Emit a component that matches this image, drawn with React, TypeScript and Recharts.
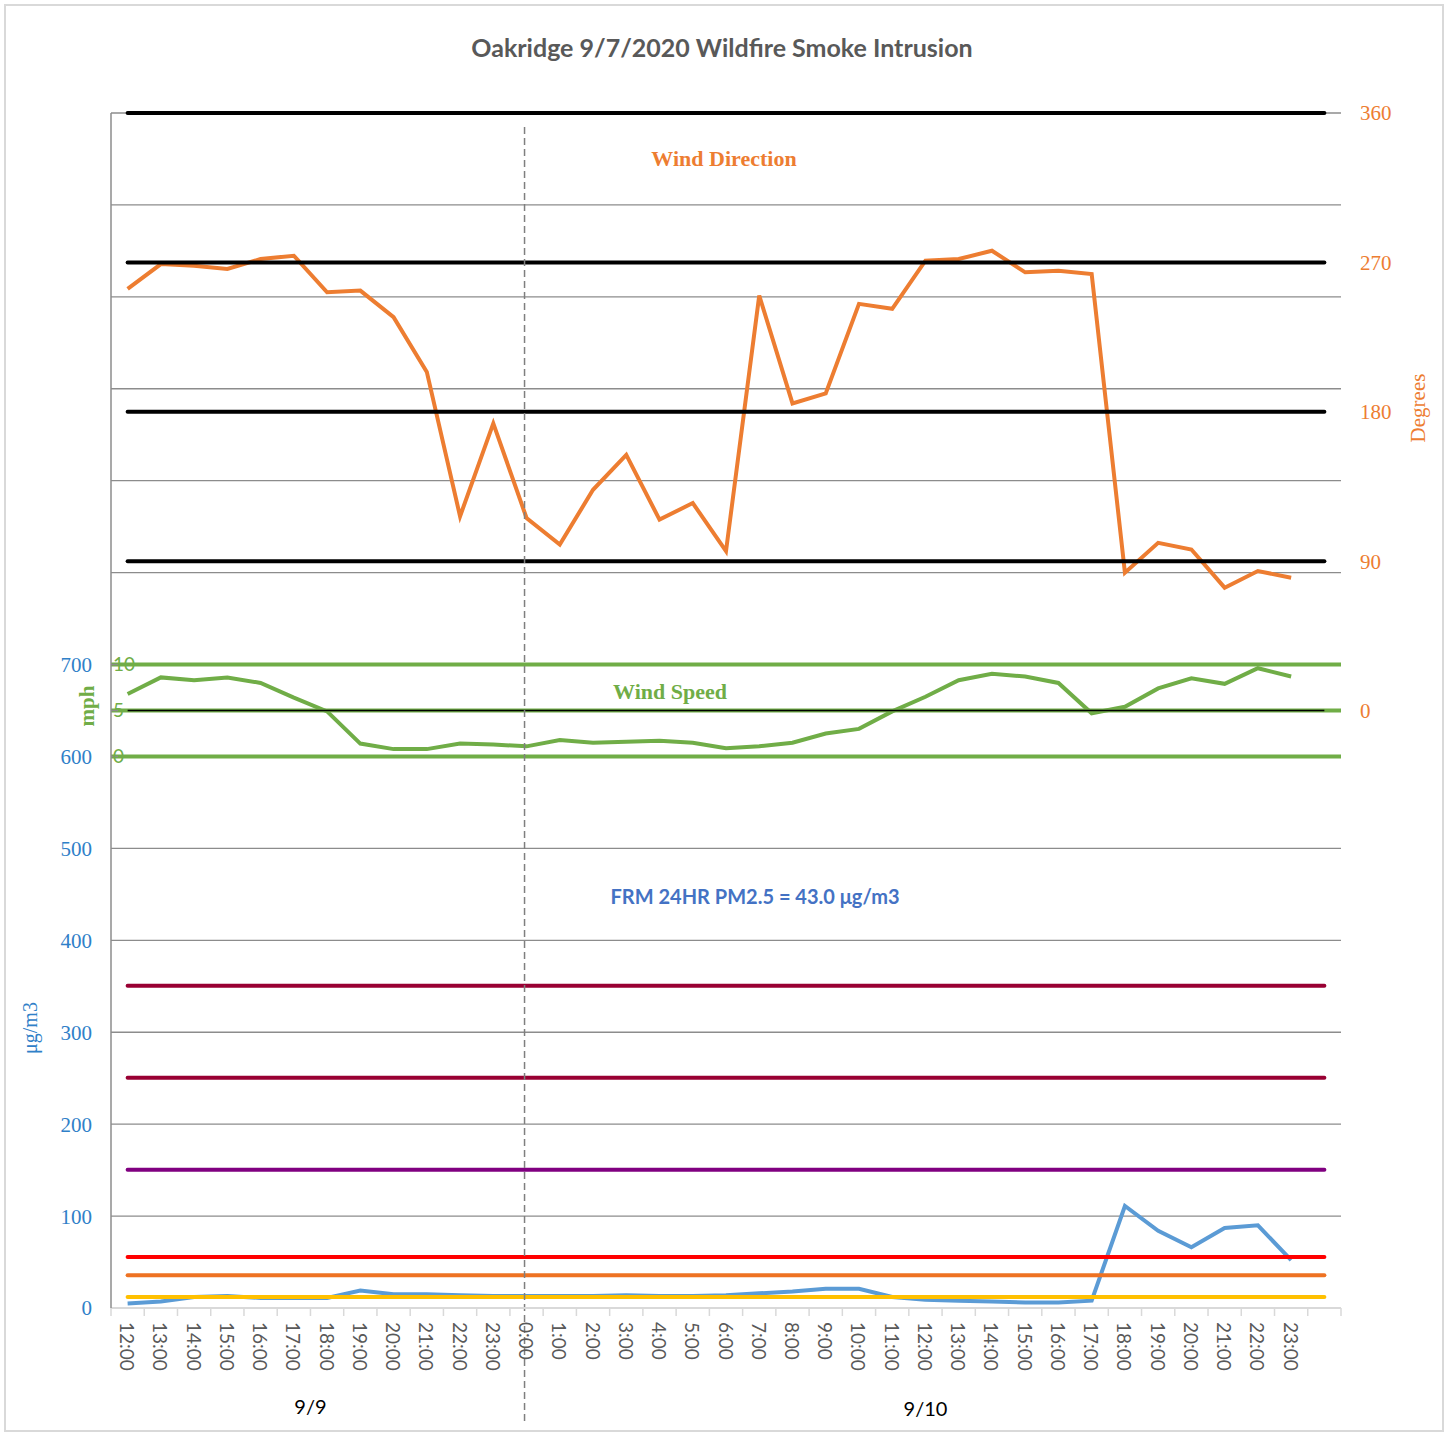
import React from 'react';
import {
  ComposedChart,
  Line,
  XAxis,
  YAxis,
  CartesianGrid,
  ReferenceLine,
} from 'recharts';

const hourLabels = [
  '12:00', '13:00', '14:00', '15:00', '16:00', '17:00', '18:00', '19:00', '20:00', '21:00', '22:00', '23:00',
  '0:00', '1:00', '2:00', '3:00', '4:00', '5:00', '6:00', '7:00', '8:00', '9:00', '10:00', '11:00',
  '12:00', '13:00', '14:00', '15:00', '16:00', '17:00', '18:00', '19:00', '20:00', '21:00', '22:00', '23:00',
  '',
];

// date groups shown under the hours, and how many hour slots each one spans
const dayLabels = ['9/9', '9/10'];
const daySpans = [12, 25];

const windDirection = [
  254, 269, 268, 266, 272, 274, 252, 253, 237, 204, 117, 173,
  116, 100, 133, 154, 115, 125, 96, 250, 185, 191, 245, 242,
  271, 272, 277, 264, 265, 263, 83, 101, 97, 74, 84, 80,
];

const windSpeed = [
  6.8, 8.6, 8.3, 8.6, 8.0, 6.4, 4.9, 1.4, 0.8, 0.8, 1.4, 1.3,
  1.1, 1.8, 1.5, 1.6, 1.7, 1.5, 0.9, 1.1, 1.5, 2.5, 3.0, 4.9,
  6.5, 8.3, 9.0, 8.7, 8.0, 4.7, 5.4, 7.4, 8.5, 7.9, 9.6, 8.7,
];

const pm25 = [
  5, 7, 12, 13, 11, 11, 11, 19, 15, 15, 14, 13,
  13, 13, 13, 14, 13, 13, 14, 16, 18, 21, 21, 12,
  9, 8, 7, 6, 6, 8, 111, 84, 66, 87, 90, 52,
];

const pmTicks = [0, 100, 200, 300, 400, 500, 600, 700, 800, 900, 1000, 1100, 1200, 1300];
const directionTicks = [0, 90, 180, 270, 360];
const speedTicks = [0, 5, 10];
const directionLevels = [90, 180, 270, 360];
const aqiLevels = [12, 35.5, 55.5, 150.5, 250.5, 350.5];

const aqiColors = ['#FFC000', '#EE7222', '#FF0000', '#800080', '#990033', '#990033'];

const dayOf = (i: number) => {
  let end = 0;
  for (let d = 0; d < daySpans.length; d++) {
    end += daySpans[d];
    if (i < end) return dayLabels[d];
  }
  return dayLabels[dayLabels.length - 1];
};

const data = hourLabels.map((hour, i) => ({
  slot: `${dayOf(i)} ${hour}`,
  hour,
  direction: windDirection[i] ?? null,
  speed: windSpeed[i] ?? null,
  pm: pm25[i] ?? null,
}));

const dayBreak = data[daySpans[0]].slot;

const SERIF = '"Liberation Serif", "Times New Roman", serif';
const SANS = 'Lato, "Open Sans", sans-serif';

function HourTick(props: any) {
  const { x, y, payload } = props;
  const half = payload?.offset || 16.6;
  const i = data.findIndex((r) => r.slot === payload.value);
  const row = data[i];
  const isLast = i === data.length - 1;

  let start = 0;
  let dayIdx = -1;
  daySpans.forEach((span, d) => {
    if (i === start) dayIdx = d;
    start += span;
  });

  return (
    <g>
      <line x1={x - half} x2={x - half} y1={y} y2={y + 8} stroke="#d9d9d9" strokeWidth={1.5} />
      {isLast && <line x1={x + half} x2={x + half} y1={y} y2={y + 8} stroke="#d9d9d9" strokeWidth={1.5} />}
      {row && row.hour && (
        <text
          x={x}
          y={y + 14}
          transform={`rotate(90 ${x} ${y + 14})`}
          textAnchor="start"
          dominantBaseline="central"
          fill="#595959"
          fontSize={19}
          fontFamily={SANS}
        >
          {row.hour}
        </text>
      )}
      {dayIdx >= 0 && (
        <text
          x={x + (daySpans[dayIdx] - 1) * half}
          y={y + 106 + dayIdx * 2}
          textAnchor="middle"
          fill="#000"
          fontSize={20}
          fontFamily={SANS}
        >
          {dayLabels[dayIdx]}
        </text>
      )}
    </g>
  );
}

function DayBreakLine(props: any) {
  const { x1, x2, y1, y2 } = props;
  const top = Math.min(y1, y2);
  const bottom = Math.max(y1, y2);
  return (
    <line
      x1={x1 - 2}
      x2={x2 - 2}
      y1={top + 14}
      y2={bottom + 117}
      stroke="#7f7f7f"
      strokeWidth={1.5}
      strokeDasharray="7 4"
    />
  );
}

export default function App() {
  return (
    <div style={{ position: 'absolute', left: 0, top: 0, width: 1447, height: 1433, background: '#fff' }}>
      <div
        style={{
          position: 'absolute',
          left: 4,
          top: 4,
          width: 1436,
          height: 1424,
          border: '2px solid #d9d9d9',
        }}
      />
      <div style={{ position: 'absolute', left: 0, top: 0 }}>
        <ComposedChart
          width={1447}
          height={1433}
          data={data}
          margin={{ top: 113, right: 46, bottom: 15, left: 51 }}
        >
          <CartesianGrid yAxisId="pm" vertical={false} stroke="#8c8c8c" strokeWidth={1.3} />
          <XAxis
            dataKey="slot"
            scale="band"
            interval={0}
            height={110}
            tickSize={0}
            tickMargin={0}
            tickLine={false}
            axisLine={{ stroke: '#d9d9d9', strokeWidth: 2 }}
            tick={<HourTick />}
          />
          <YAxis
            yAxisId="pm"
            orientation="left"
            width={60}
            domain={[0, 1300]}
            ticks={pmTicks}
            interval={0}
            tickFormatter={(v: number) => (v <= 700 ? String(v) : '')}
            tickLine={false}
            tickSize={0}
            tickMargin={19}
            axisLine={{ stroke: '#8c8c8c', strokeWidth: 1.5 }}
            tick={{ fill: '#2F80C8', fontSize: 21, fontFamily: SERIF }}
          />
          <YAxis
            yAxisId="ws"
            orientation="left"
            mirror
            width={40}
            domain={[-60, 70]}
            ticks={speedTicks}
            interval={0}
            axisLine={false}
            tickLine={{ stroke: '#8c8c8c', strokeWidth: 1.5 }}
            tickSize={7}
            tickMargin={-5}
            tick={{ fill: '#70AD47', fontSize: 19, fontFamily: SANS }}
          />
          <YAxis
            yAxisId="deg"
            orientation="right"
            width={60}
            domain={[-360, 360]}
            ticks={directionTicks}
            interval={0}
            axisLine={false}
            tickLine={false}
            tickSize={0}
            tickMargin={19}
            tick={{ fill: '#ED7D31', fontSize: 21, fontFamily: SERIF }}
          />

          {speedTicks.map((v) => (
            <ReferenceLine key={`ws-${v}`} yAxisId="ws" y={v} stroke="#70AD47" strokeWidth={4} />
          ))}

          <Line
            yAxisId="pm"
            dataKey="pm"
            stroke="#5B9BD5"
            strokeWidth={4}
            dot={false}
            activeDot={false}
            isAnimationActive={false}
          />
          <Line
            yAxisId="ws"
            dataKey="speed"
            stroke="#70AD47"
            strokeWidth={4}
            dot={false}
            activeDot={false}
            isAnimationActive={false}
          />
          <Line
            yAxisId="deg"
            dataKey="direction"
            stroke="#ED7D31"
            strokeWidth={4}
            dot={false}
            activeDot={false}
            isAnimationActive={false}
          />

          <Line
            yAxisId="deg"
            dataKey={() => 0}
            stroke="#000"
            strokeWidth={1.5}
            dot={false}
            activeDot={false}
            isAnimationActive={false}
          />
          {directionLevels.map((lvl) => (
            <Line
              key={`dir-${lvl}`}
              yAxisId="deg"
              dataKey={() => lvl}
              stroke="#000"
              strokeWidth={4}
              strokeLinecap="round"
              dot={false}
              activeDot={false}
              isAnimationActive={false}
            />
          ))}
          {aqiLevels.map((lvl, i) => (
            <Line
              key={`aqi-${lvl}`}
              yAxisId="pm"
              dataKey={() => lvl}
              stroke={aqiColors[i]}
              strokeWidth={4}
              strokeLinecap="round"
              dot={false}
              activeDot={false}
              isAnimationActive={false}
            />
          ))}

          <ReferenceLine x={dayBreak} yAxisId="pm" shape={DayBreakLine} />
        </ComposedChart>
      </div>

      <svg
        width={1447}
        height={1433}
        style={{ position: 'absolute', left: 0, top: 0, pointerEvents: 'none' }}
      >
        <text x={722} y={57} textAnchor="middle" fill="#595959" fontSize={25} fontWeight={700} fontFamily={SANS}>
          Oakridge 9/7/2020 Wildfire Smoke Intrusion
        </text>
        <text x={724} y={166} textAnchor="middle" fill="#ED7D31" fontSize={22} fontWeight={700} fontFamily={SERIF}>
          Wind Direction
        </text>
        <text x={670} y={699} textAnchor="middle" fill="#70AD47" fontSize={22} fontWeight={700} fontFamily={SERIF}>
          Wind Speed
        </text>
        <text x={755} y={904} textAnchor="middle" fill="#4472C4" fontSize={20} fontWeight={700} fontFamily={SANS}>
          FRM 24HR PM2.5 = 43.0 μg/m3
        </text>
        <text
          x={30}
          y={1028}
          transform="rotate(-90 30 1028)"
          textAnchor="middle"
          dominantBaseline="central"
          fill="#2F80C8"
          fontSize={20}
          fontFamily={SERIF}
        >
          μg/m3
        </text>
        <text
          x={87}
          y={706}
          transform="rotate(-90 87 706)"
          textAnchor="middle"
          dominantBaseline="central"
          fill="#70AD47"
          fontSize={21}
          fontWeight={700}
          fontFamily={SERIF}
        >
          mph
        </text>
        <text
          x={1418}
          y={408}
          transform="rotate(-90 1418 408)"
          textAnchor="middle"
          dominantBaseline="central"
          fill="#ED7D31"
          fontSize={21}
          fontFamily={SERIF}
        >
          Degrees
        </text>
      </svg>
    </div>
  );
}
